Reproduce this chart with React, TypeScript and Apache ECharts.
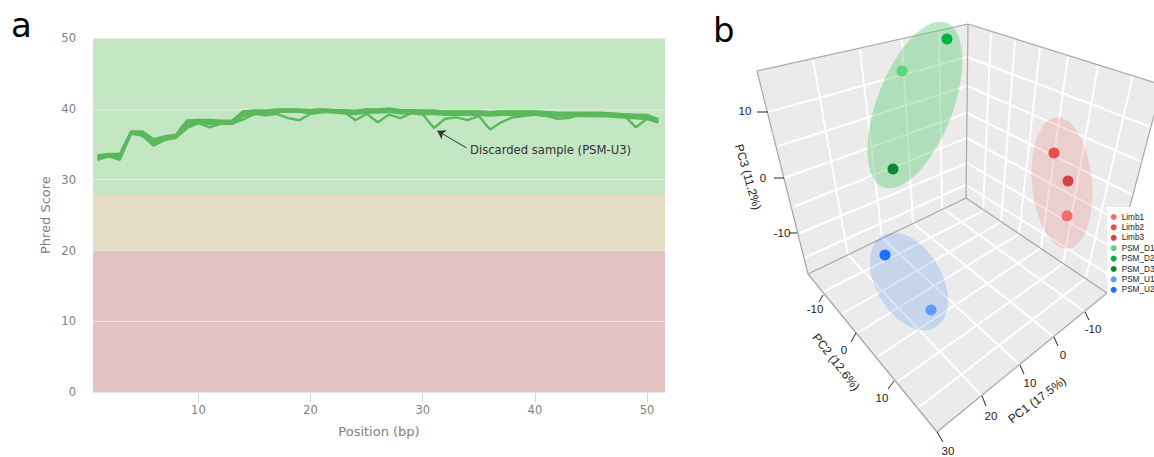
import React, { useEffect, useRef } from "react";
import * as echarts from "echarts";

// ---------- panel a: per-base Phred scores, positions 1..51 ----------
const phredU3 = [32.8,33.3,32.8,36.7,36.2,34.8,35.6,35.9,37.3,38.0,37.4,37.9,37.9,38.5,39.3,39.1,39.3,38.7,38.4,39.3,39.5,39.7,39.6,38.4,39.3,38.1,39.2,38.7,39.4,39.2,37.3,38.6,38.8,38.4,39.0,37.1,38.1,38.8,39.0,39.2,39.0,38.6,38.7,39.2,39.0,39.0,39.2,39.0,37.4,38.6,38.2];
const phredD1 = [33.4,33.6,33.6,36.8,36.8,35.7,36.1,36.3,38.3,38.4,38.4,38.3,38.3,39.6,39.7,39.7,39.9,39.9,39.9,39.8,39.9,39.8,39.8,39.7,39.9,39.9,40.0,39.8,39.8,39.7,39.7,39.6,39.6,39.6,39.6,39.5,39.6,39.6,39.6,39.6,39.5,39.4,39.4,39.4,39.4,39.4,39.3,39.2,39.1,39.1,38.5];
const phredD2 = [33.1,33.4,33.3,36.6,36.5,35.3,35.9,36.1,38.1,38.2,38.1,38.1,38.0,39.3,39.5,39.5,39.7,39.8,39.7,39.6,39.8,39.6,39.6,39.5,39.7,39.7,39.8,39.6,39.6,39.5,39.5,39.4,39.4,39.4,39.4,39.3,39.4,39.4,39.4,39.4,39.3,39.2,39.2,39.2,39.2,39.2,39.1,39.0,38.9,38.8,38.3];
const phredD3 = [33.2,33.5,33.4,36.7,36.7,35.5,36.0,36.3,38.3,38.4,38.2,38.2,38.1,39.6,39.7,39.7,39.8,39.9,39.8,39.8,39.9,39.8,39.7,39.6,39.9,39.8,40.0,39.8,39.8,39.7,39.7,39.6,39.6,39.6,39.6,39.5,39.6,39.6,39.6,39.6,39.5,39.4,39.4,39.4,39.4,39.4,39.3,39.2,39.1,39.1,38.5];
const phredU1 = [33.0,33.3,33.2,36.5,36.3,35.1,35.8,36.0,37.7,38.1,37.9,38.0,37.9,39.0,39.3,39.4,39.6,39.6,39.6,39.4,39.6,39.5,39.4,39.3,39.5,39.5,39.6,39.4,39.4,39.3,39.3,39.2,39.2,39.2,39.2,39.1,39.2,39.2,39.2,39.2,39.1,39.0,39.0,39.0,39.0,39.0,38.9,38.8,38.7,38.6,38.1];
const phredSeries = [phredD1, phredD2, phredD3, phredU1, phredU3];
const xTicks = [10, 20, 30, 40, 50];
const qualityBands = [
  { from: 28, to: 50, color: "#c3e7c3" },
  { from: 20, to: 28, color: "#e5dcc4" },
  { from: 0, to: 20, color: "#e5c2c2" },
];
const arrowFrom = [33.9, 34.5];
const arrowTo = [31.3, 36.9];

// ---------- panel b: 3D PCA ----------
const sampleNames = ["Limb1","Limb2","Limb3","PSM_D1","PSM_D2","PSM_D3","PSM_U1","PSM_U2"];
const sampleColors = ["#f46c6c","#ee4a4f","#d44444","#5ad67d","#00b33c","#0a8a2f","#5f9bff","#1f6fff"];
const samplePoints = [[1067,216],[1054,153],[1068,181],[902,71],[947,39],[893,169],[931,310],[885,255]];

const wallPolygons = [
  [[757,71],[968,24],[966,198],[808,274]],
  [[968,24],[1162,85],[1107,293],[966,198]],
  [[808,274],[966,198],[1107,293],[937,432]],
];
const gridSegments = [
  // left wall, verticals
  [813,60,848,255],[860,50,882,238],[902,40,913,223],[939,32,942,208],
  // left wall, horizontals
  [768,112,967,57],[778,146,967,86],[784,178,967,113],[793,207,967,138],[800,233,967,163],[804,258,966,185],
  // right wall, verticals
  [991,33,983,211],[1015,41,1001,222],[1040,48,1019,234],[1068,57,1041,248],[1098,66,1063,264],[1133,75,1086,278],
  // right wall, horizontals
  [967,57,1151,127],[967,86,1142,162],[967,113,1133,195],[967,138,1125,224],[967,163,1118,251],[966,185,1111,276],
  // floor
  [848,255,982,396],[882,238,1020,365],[913,223,1054,337],[942,208,1085,312],
  [983,211,823,292],[1001,222,842,314],[1019,234,857,333],[1041,248,877,357],[1063,264,897,382],[1086,278,918,408],
];
const edgeSegments = [
  [757,71,968,24],[968,24,1162,85],[757,71,808,274],[1162,85,1107,293],
  [808,274,966,198],[966,198,1107,293],[808,274,937,432],[937,432,1107,293],[968,24,966,198],
];
const ellipses = [
  { center: [1062,183], a: 66, b: 30, tilt: -5, color: "rgba(235,90,90,0.2)" },
  { center: [915,105], a: 88, b: 38, tilt: 21, color: "rgba(95,205,120,0.42)" },
  { center: [909,281.5], a: 53, b: 33, tilt: -30, color: "rgba(70,130,240,0.22)" },
];
const tickSegments = [
  [757,112,768,112],[774,178,784,178],[789,233,797,233],
  [823,295,819,302],[856,333,851,342],[894,381,888,389],
  [1085,312,1089,320],[1054,337,1058,346],[1020,365,1024,374],[982,396,986,406],[937,432,943,442],
];
const tickLabels = ["10","0","-10","-10","0","10","-10","0","10","20","30"];
const tickLabelAnchors = [[745,111],[763,178],[782,233],[815,309],[844,350],[882,398],[1093,329],[1063,355],[1030,383],[991,416],[948,450.5]];
const axisTitles = ["PC1 (17.5%)","PC2 (12.6%)","PC3 (11.2%)"];
const axisTitleAnchors = [[1037,400],[836,362],[748,177]];
const axisTitleAngles = [37,-52,-74];

const SANS = "Liberation Sans";
const DEJAVU = "DejaVu Sans";
const rad = (d: number) => (d * Math.PI) / 180;

const segmentSeries = (name: string, rows: number[][], stroke: string, lineWidth: number) => ({
  type: "custom", name, xAxisIndex: 1, yAxisIndex: 1, silent: true, clip: false,
  encode: { x: [0, 2], y: [1, 3] }, data: rows,
  renderItem: (_p: any, api: any) => {
    const a = api.coord([api.value(0), api.value(1)]);
    const b = api.coord([api.value(2), api.value(3)]);
    return { type: "line", shape: { x1: a[0], y1: a[1], x2: b[0], y2: b[1] }, style: { stroke, lineWidth, fill: "none" } };
  },
});

const textSeries = (name: string, texts: string[], anchors: number[][], angles: number[] | null, fontSize: number) => ({
  type: "custom", name, xAxisIndex: 1, yAxisIndex: 1, silent: true, clip: false,
  encode: { x: 0, y: 1 }, data: anchors,
  renderItem: (p: any, api: any) => {
    const c = api.coord([api.value(0), api.value(1)]);
    return {
      type: "text", x: c[0], y: c[1], rotation: angles ? rad(angles[p.dataIndex]) : 0,
      style: { text: texts[p.dataIndex], fill: "#222", font: `${fontSize}px "${SANS}"`, align: "center", verticalAlign: "middle" },
    };
  },
});

export default function App() {
  const ref = useRef<HTMLDivElement>(null);
  useEffect(() => {
    document.body.style.margin = "0";
    const chart = echarts.init(ref.current!, null, { renderer: "svg" });
    const labelStyle = { color: "#808080", fontFamily: DEJAVU, fontSize: 11.5 };
    chart.setOption({
      animation: false,
      backgroundColor: "#fff",
      grid: [
        { left: 93, top: 38, width: 572, height: 354.3 },
        { left: 700, top: 0, width: 454, height: 457 },
      ],
      xAxis: [
        {
          type: "value", gridIndex: 0, min: 0.6, max: 51.6,
          splitLine: { show: false },
          axisLine: { show: true, onZero: false, lineStyle: { color: "#ccd6eb" } },
          axisTick: { show: true, length: 10, lineStyle: { color: "#ccd6eb" }, customValues: xTicks },
          axisLabel: { ...labelStyle, margin: 12, customValues: xTicks },
          name: "Position (bp)", nameLocation: "middle", nameGap: 33,
          nameTextStyle: { ...labelStyle, fontSize: 13 },
        },
        { type: "value", gridIndex: 1, min: 700, max: 1154, show: false },
      ],
      yAxis: [
        {
          type: "value", gridIndex: 0, min: 0, max: 50, interval: 10, z: 3,
          splitLine: { show: true, lineStyle: { color: "#e6e6e6", width: 1 } },
          axisLine: { show: false }, axisTick: { show: false },
          axisLabel: { ...labelStyle, margin: 17 },
          name: "Phred Score", nameLocation: "middle", nameGap: 41,
          nameTextStyle: { ...labelStyle, fontSize: 13 },
        },
        { type: "value", gridIndex: 1, min: 0, max: 457, inverse: true, show: false },
      ],
      legend: {
        data: sampleNames, orient: "vertical", left: 1107, top: 207, icon: "circle",
        itemWidth: 6, itemHeight: 6, itemGap: 2.4, padding: [6, 12, 6, 3.7], z: 6,
        backgroundColor: "#fff", selectedMode: false,
        textStyle: { fontFamily: SANS, fontSize: 8.2, color: "#222" },
      },
      graphic: [
        { type: "text", z: 10, left: 11, top: 8, style: { text: "a", font: `34px "${DEJAVU}"`, fill: "#000" } },
        { type: "text", z: 10, left: 713, top: 13, style: { text: "b", font: `34px "${DEJAVU}"`, fill: "#000" } },
        { type: "text", z: 10, left: 470, top: 144, style: { text: "Discarded sample (PSM-U3)", font: `11.6px "${DEJAVU}"`, fill: "#333" } },
      ],
      series: [
        // quality bands
        {
          type: "line", name: "bands", xAxisIndex: 0, yAxisIndex: 0, data: [], z: 1, silent: true,
          markArea: {
            silent: true,
            data: qualityBands.map((b) => [
              { yAxis: b.from, itemStyle: { color: b.color, opacity: 1 } },
              { yAxis: b.to },
            ]),
          },
        },
        ...phredSeries.map((vals, s) => ({
          type: "line", name: `phred${s}`, xAxisIndex: 0, yAxisIndex: 0, z: 4, silent: true,
          showSymbol: false, symbol: "none",
          lineStyle: { color: "#5cb85c", width: s === phredSeries.length - 1 ? 2.4 : 2.8 },
          data: vals.map((v, i) => [i + 1, v]),
          ...(s === phredSeries.length - 1
            ? {
                markLine: {
                  silent: true, animation: false, symbol: ["arrow", "none"], symbolSize: 8,
                  lineStyle: { color: "#333", width: 1, type: "solid" }, label: { show: false },
                  data: [[{ coord: arrowTo }, { coord: arrowFrom }]],
                },
              }
            : {}),
        })),
        // 3D box
        {
          type: "custom", name: "walls", xAxisIndex: 1, yAxisIndex: 1, silent: true, clip: false,
          encode: { x: [0, 2, 4, 6], y: [1, 3, 5, 7] }, data: wallPolygons.map((w) => w.flat()),
          renderItem: (_p: any, api: any) => {
            const pts = [0, 2, 4, 6].map((i) => api.coord([api.value(i), api.value(i + 1)]));
            return { type: "polygon", shape: { points: pts }, style: { fill: "#ebebeb" } };
          },
        },
        segmentSeries("grid3d", gridSegments, "#ffffff", 2),
        segmentSeries("edges3d", edgeSegments, "#a6a6a6", 1.2),
        {
          type: "custom", name: "ellipses", xAxisIndex: 1, yAxisIndex: 1, silent: true, clip: false,
          encode: { x: 0, y: 1 }, data: ellipses.map((e) => e.center),
          renderItem: (p: any, api: any) => {
            const e = ellipses[p.dataIndex];
            const c = api.coord([api.value(0), api.value(1)]);
            return {
              type: "ellipse", x: c[0], y: c[1], rotation: -rad(e.tilt),
              shape: { cx: 0, cy: 0, rx: e.b, ry: e.a }, style: { fill: e.color },
            };
          },
        },
        segmentSeries("ticks3d", tickSegments, "#222", 1),
        textSeries("tickLabels3d", tickLabels, tickLabelAnchors, null, 11.5),
        textSeries("axisTitles3d", axisTitles, axisTitleAnchors, axisTitleAngles, 12),
        ...sampleNames.map((name, i) => ({
          type: "scatter", name, xAxisIndex: 1, yAxisIndex: 1, silent: true,
          symbol: "circle", symbolSize: 11, itemStyle: { color: sampleColors[i], opacity: 1 },
          data: [samplePoints[i]],
        })),
      ],
    });
    return () => chart.dispose();
  }, []);
  return <div ref={ref} style={{ width: 1154, height: 457 }} />;
}
